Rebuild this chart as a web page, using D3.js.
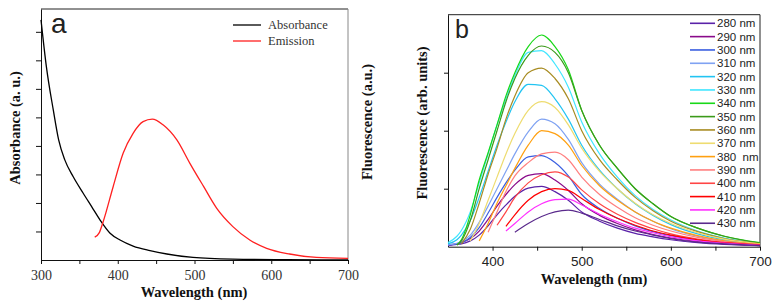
<!DOCTYPE html>
<html lang="en">
<head>
	<meta charset="UTF-8">
	<title>absorbance and emission</title>
	<style>
		body { margin: 0; background: #fff; }
		svg text { fill: #222; }
		.serif { font-family: "Liberation Serif", "Times New Roman", serif; }
		.sans { font-family: "Liberation Sans", Arial, sans-serif; }
		.title { font-weight: bold; font-size: 14.5px; fill: #111; }
		.axis path, .axis line { stroke: #111; }
	</style>
</head>
<body>
	<svg id="container" width="781" height="305"></svg>
</body>
<script src="https://cdn.jsdelivr.net/npm/d3@7"></script>
<script>
	// panel a: wavelength (nm) and values in tick units
	let absWl = [300, 307, 316, 323, 331, 342, 355, 366, 377, 390, 403, 420, 442, 464, 498, 550, 620, 700]
	let absVal = [8.42, 6.78, 5.26, 4.21, 3.51, 2.92, 2.34, 1.87, 1.40, 0.94, 0.70, 0.49, 0.33, 0.21, 0.09, 0.03, 0.01, 0.0]
	let emWl = [370, 376, 381, 394, 407, 420, 433, 445, 459, 477, 494, 512, 529, 550, 572, 594, 624, 659, 700]
	let emVal = [0.80, 0.96, 1.34, 2.57, 3.74, 4.44, 4.85, 4.94, 4.74, 4.21, 3.39, 2.57, 1.81, 1.17, 0.70, 0.41, 0.21, 0.09, 0.06]
	let legendA = ["Absorbance", "Emission"]
	let colorsA = ["#000000", "#ff2020"]

	// panel b: one row per excitation wavelength, aligned with gridB
	let gridB = [350, 360, 365, 375, 385, 395, 405, 415, 425, 440, 455, 470, 485, 500, 520, 540, 560, 580, 600, 630, 660, 700]
	let excitation = ["280 nm", "290 nm", "300 nm", "310 nm", "320 nm", "330 nm", "340 nm", "350 nm",
		"360 nm", "370 nm", "380  nm", "390 nm", "400 nm", "410 nm", "420 nm", "430 nm"]
	let colorsB = ["#5a22a8", "#8a0a8a", "#3a5ee0", "#7fa2f2", "#22c4f2", "#40e6ff", "#18d818", "#3c9a1a",
		"#a88c22", "#eedc70", "#ffa010", "#ff7f7f", "#ff4545", "#ff0000", "#ff30ff", "#5a2a8c"]
	let fluor = [
		[0.02, 0.04, 0.05, 0.10, 0.20, 0.36, 0.55, 0.72, 0.87, 1.01, 1.04, 0.95, 0.80, 0.60, 0.44, 0.32, 0.23, 0.17, 0.12, 0.07, 0.04, 0.02],
		[0.03, 0.05, 0.07, 0.14, 0.27, 0.47, 0.70, 0.90, 1.07, 1.23, 1.26, 1.15, 0.97, 0.74, 0.54, 0.40, 0.29, 0.21, 0.15, 0.09, 0.05, 0.02],
		[0.03, 0.05, 0.07, 0.16, 0.33, 0.58, 0.85, 1.10, 1.32, 1.55, 1.57, 1.45, 1.22, 0.90, 0.66, 0.49, 0.36, 0.26, 0.19, 0.11, 0.06, 0.025],
		[0.03, 0.06, 0.09, 0.20, 0.42, 0.70, 1.00, 1.30, 1.60, 1.98, 2.20, 2.12, 1.85, 1.45, 1.08, 0.82, 0.60, 0.44, 0.31, 0.18, 0.10, 0.04],
		[0.05, 0.12, 0.20, 0.45, 0.85, 1.30, 1.75, 2.15, 2.50, 2.80, 2.78, 2.55, 2.20, 1.75, 1.32, 1.00, 0.74, 0.54, 0.38, 0.22, 0.12, 0.05],
		[0.07, 0.18, 0.28, 0.60, 1.10, 1.60, 2.10, 2.55, 2.95, 3.35, 3.38, 3.15, 2.75, 2.15, 1.60, 1.20, 0.88, 0.64, 0.46, 0.27, 0.15, 0.06],
		[null, 0.03, 0.12, 0.55, 1.15, 1.62, 2.10, 2.60, 3.00, 3.45, 3.65, 3.45, 3.05, 2.35, 1.75, 1.35, 1.00, 0.74, 0.52, 0.32, 0.18, 0.07],
		[null, 0.03, 0.10, 0.45, 1.00, 1.50, 2.00, 2.50, 2.90, 3.30, 3.46, 3.35, 3.00, 2.35, 1.75, 1.35, 1.00, 0.74, 0.52, 0.32, 0.18, 0.06],
		[null, null, 0.05, 0.30, 0.75, 1.25, 1.70, 2.20, 2.60, 3.00, 3.08, 2.90, 2.55, 2.00, 1.50, 1.15, 0.85, 0.62, 0.44, 0.26, 0.14, 0.05],
		[null, null, null, 0.10, 0.40, 0.80, 1.20, 1.60, 1.95, 2.35, 2.50, 2.40, 2.10, 1.70, 1.30, 1.00, 0.75, 0.55, 0.40, 0.24, 0.13, 0.05],
		[null, null, null, null, 0.10, 0.40, 0.75, 1.05, 1.35, 1.75, 2.00, 1.95, 1.75, 1.40, 1.05, 0.80, 0.60, 0.44, 0.32, 0.19, 0.10, 0.04],
		[null, null, null, null, null, 0.25, 0.60, 0.95, 1.22, 1.45, 1.60, 1.63, 1.50, 1.20, 0.90, 0.68, 0.50, 0.37, 0.27, 0.16, 0.09, 0.035],
		[null, null, null, null, null, null, 0.37, 0.60, 0.85, 1.10, 1.24, 1.29, 1.20, 0.98, 0.74, 0.56, 0.42, 0.31, 0.22, 0.13, 0.07, 0.03],
		[null, null, null, null, null, null, null, 0.35, 0.55, 0.80, 0.95, 1.00, 0.97, 0.83, 0.64, 0.49, 0.37, 0.27, 0.20, 0.12, 0.07, 0.03],
		[null, null, null, null, null, null, null, 0.27, 0.40, 0.60, 0.74, 0.81, 0.82, 0.72, 0.56, 0.43, 0.32, 0.24, 0.17, 0.10, 0.06, 0.025],
		[null, null, null, null, null, null, null, null, 0.25, 0.40, 0.52, 0.60, 0.63, 0.58, 0.47, 0.36, 0.27, 0.20, 0.14, 0.08, 0.05, 0.02]
	]

	let svg = d3.select("#container")

	// ---------- panel a ----------
	let xa = d3.scaleLinear().domain([300, 700]).range([41, 348])
	let ya = d3.scaleLinear().domain([0, 8.8]).range([260, 9])
	let pa = svg.append("g")

	pa.append("line").attr("x1", xa(300)).attr("x2", xa(700)).attr("y1", ya(8.8)).attr("y2", ya(8.8)).attr("stroke", "#222")
	pa.append("line").attr("x1", xa(700)).attr("x2", xa(700)).attr("y1", ya(8.8)).attr("y2", ya(0)).attr("stroke", "#888")

	pa.append("g")
	.attr("class", "axis serif")
	.attr("transform", "translate(0," + ya(0) + ")")
	.call(d3.axisBottom(xa).tickValues(d3.range(300, 701, 50)).tickSize(4).tickSizeOuter(0).tickFormat(d => d % 100 ? "" : d))
	.call(g => g.selectAll("text").attr("font-size", 14).attr("dy", "0.95em").style("fill", "#333"))

	pa.append("g")
	.attr("class", "axis")
	.attr("transform", "translate(" + xa(300) + ",0)")
	.call(d3.axisLeft(ya).tickValues(d3.range(1, 9)).tickSize(5).tickSizeOuter(0).tickFormat(""))

	let linea = d3.line().x(d => xa(d[0])).y(d => ya(d[1])).curve(d3.curveMonotoneX)
	pa.append("path").datum(d3.zip(absWl, absVal)).attr("d", linea)
	.attr("fill", "none").attr("stroke", colorsA[0]).attr("stroke-width", 1.3)
	pa.append("path").datum(d3.zip(emWl, emVal)).attr("d", linea)
	.attr("fill", "none").attr("stroke", colorsA[1]).attr("stroke-width", 1.3)

	let lega = pa.append("g").attr("class", "serif")
	legendA.forEach((name, i) => {
		lega.append("line").attr("x1", 233).attr("x2", 261).attr("y1", 25 + i * 16).attr("y2", 25 + i * 16)
		.attr("stroke", colorsA[i]).attr("stroke-width", 1.3)
		lega.append("text").attr("x", 268).attr("y", 25 + i * 16).attr("dy", "0.35em")
		.attr("font-size", 12.5).style("fill", "#333").text(name)
	})

	pa.append("text").attr("class", "sans").attr("x", 51).attr("y", 33)
	.attr("font-size", 28).text("a")
	pa.append("text").attr("class", "serif title").attr("x", 194).attr("y", 297)
	.attr("text-anchor", "middle").text("Wavelength (nm)")
	pa.append("text").attr("class", "serif title")
	.attr("transform", "translate(20,128) rotate(-90)")
	.attr("text-anchor", "middle").text("Absorbance (a. u.)")
	pa.append("text").attr("class", "serif title")
	.attr("transform", "translate(372,122) rotate(-90)")
	.attr("text-anchor", "middle").text("Fluorescence (a.u.)")

	// ---------- panel b ----------
	let xb = d3.scaleLinear().domain([350, 700]).range([448, 760])
	let yb = d3.scaleLinear().domain([0, 4]).range([246.7, 14.7])
	let pb = svg.append("g")

	pb.append("line").attr("x1", xb(350)).attr("x2", xb(700)).attr("y1", yb(4)).attr("y2", yb(4)).attr("stroke", "#222")
	pb.append("line").attr("x1", xb(700)).attr("x2", xb(700)).attr("y1", yb(4)).attr("y2", yb(0)).attr("stroke", "#222")

	pb.append("g")
	.attr("class", "axis sans")
	.attr("transform", "translate(0," + yb(0) + ")")
	.call(d3.axisBottom(xb).tickValues(d3.range(400, 701, 50)).tickSize(4).tickSizeOuter(0).tickFormat(d => d % 100 ? "" : d))
	.call(g => g.selectAll("text").attr("font-size", 13.5).attr("dy", "0.9em"))

	pb.append("g")
	.attr("class", "axis")
	.attr("transform", "translate(" + xb(350) + ",0)")
	.call(d3.axisLeft(yb).tickValues([1, 2, 3]).tickSize(4).tickSizeOuter(0).tickFormat(""))

	let lineb = d3.line()
	.defined(d => d[1] != null)
	.x(d => xb(d[0]))
	.y(d => yb(d[1]))
	.curve(d3.curveMonotoneX)

	fluor.forEach((vals, i) => {
		pb.append("path").datum(d3.zip(gridB, vals)).attr("d", lineb)
		.attr("fill", "none").attr("stroke", colorsB[i]).attr("stroke-width", 1.2)
	})

	let legb = pb.append("g").attr("class", "sans")
	excitation.forEach((name, i) => {
		let y = 23.3 + i * 13.33
		legb.append("line").attr("x1", 690).attr("x2", 715).attr("y1", y).attr("y2", y)
		.attr("stroke", colorsB[i]).attr("stroke-width", 1.6)
		legb.append("text").attr("x", 717).attr("y", y).attr("dy", "0.35em")
		.attr("font-size", 11.5).style("white-space", "pre").text(name)
	})

	pb.append("text").attr("class", "sans").attr("x", 455).attr("y", 38)
	.attr("font-size", 25).text("b")
	pb.append("text").attr("class", "serif title").attr("x", 594).attr("y", 284)
	.attr("text-anchor", "middle").text("Wavelength (nm)")
	pb.append("text").attr("class", "serif title")
	.attr("transform", "translate(427,123) rotate(-90)")
	.attr("text-anchor", "middle").text("Fluorescence (arb. units)")
</script>
</html>
